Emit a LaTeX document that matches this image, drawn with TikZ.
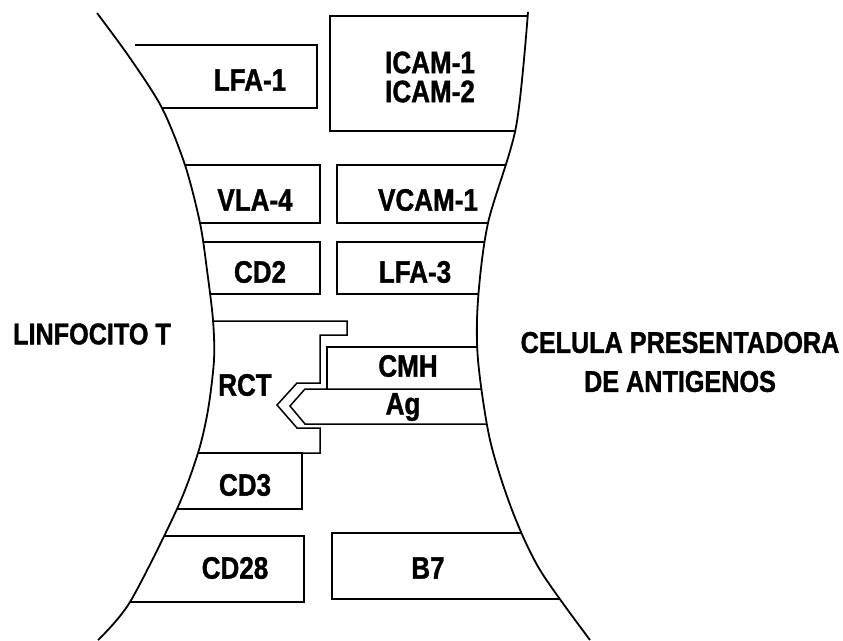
\documentclass[tikz,border=0pt]{standalone}
\usepackage{fontspec}
\newfontfamily\rotulo{Liberation Sans Bold}[FakeStretch=0.84,FakeBold=1.2]
\usetikzlibrary{positioning}
\tikzset{
  membrana/.style={line width=1.8pt,line join=round},
  caja/.style={line width=1.5pt,line join=miter},
  etiqueta/.style={font=\rotulo\fontsize{31}{29}\selectfont,inner sep=0pt,align=center},
  celula/.style={etiqueta,font=\rotulo\fontsize{30}{39}\selectfont},
}

\begin{document}
\begin{tikzpicture}[x=1pt,y=-1pt]
  \useasboundingbox (0,0) rectangle (843,640);
  % membranas de las dos celulas
  \def\izq{(97,13) (130,58) (162,108) (185,165) (200,223) (207,270) (213,320) (214,360) (208,410) (198,453) (177,509) (130,602) (98,640)}
  \def\der{(590,640) (540,570) (512,510) (490,440) (478,360) (478,300) (488,223) (516,127) (528,12)}
  \begin{scope}
    \clip plot[smooth] coordinates {\izq} -- plot[smooth] coordinates {\der} -- cycle;
    % linfocito
    \draw[caja] (135,45) -- (317,45) -- (317,108) -- (60,108);
    \draw[caja] (60,165) -- (320,165) -- (320,223) -- (60,223);
    \draw[caja] (60,242) -- (320,242) -- (320,294) -- (60,294);
    \draw[caja] (60,321) -- (347,321) -- (347,335) -- (320,335) -- (320,383) -- (297,383)
      -- (277,405) -- (297,428) -- (320,428) -- (320,453) -- (60,453);
    \draw[caja] (60,453) -- (302,453) -- (302,509) -- (60,509);
    \draw[caja] (60,536) -- (304,536) -- (304,602) -- (60,602);
    % celula presentadora
    \draw[caja] (640,16) -- (330,16) -- (330,131) -- (640,131);
    \draw[caja] (640,165) -- (337,165) -- (337,223) -- (640,223);
    \draw[caja] (640,242) -- (337,242) -- (337,294) -- (640,294);
    \draw[caja] (640,347) -- (327,347) -- (327,389);
    \draw[caja] (640,389) -- (305,389) -- (290,406) -- (305,424) -- (640,424);
    \draw[caja] (640,533) -- (332,533) -- (332,599) -- (640,599);
  \end{scope}
  \draw[membrana] plot[smooth] coordinates {\izq};
  \draw[membrana] plot[smooth] coordinates {\der};

  \node[etiqueta] (lfa1) at (250,80) {LFA-1};
  \node[etiqueta] (icam) at (430,77) {ICAM-1\\ICAM-2};
  \node[etiqueta] (vla4) at (255,200) {VLA-4};
  \node[etiqueta] (vcam1) at (428,200) {VCAM-1};
  \node[etiqueta] (cd2) at (260,272) {CD2};
  \node[etiqueta] (lfa3) at (415,272) {LFA-3};
  \node[etiqueta] (rct) at (245,385) {RCT};
  \node[etiqueta] (cmh) at (408,366) {CMH};
  \node[etiqueta] (ag) at (403,407) {Ag};
  \node[etiqueta] (cd3) at (245,485) {CD3};
  \node[etiqueta] (cd28) at (235,568) {CD28};
  \node[etiqueta] (b7) at (428,568) {B7};
  \node[celula] (linf) at (92,334) {LINFOCITO T};
  \node[celula] (cpa) at (680,362) {CELULA PRESENTADORA\\DE ANTIGENOS};
\end{tikzpicture}
\end{document}
